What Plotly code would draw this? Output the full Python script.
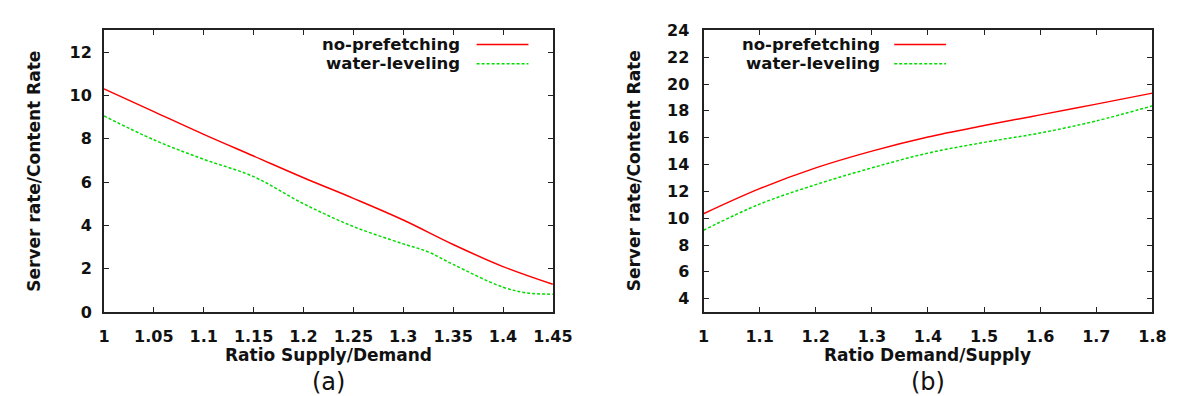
import plotly.graph_objects as go

# ---- data: panel (a) ----
xa_red = [1.0, 1.05, 1.1, 1.15, 1.2, 1.25, 1.3, 1.35, 1.4, 1.45]
ya_red = [10.3, 9.25, 8.2, 7.2, 6.2, 5.25, 4.25, 3.12, 2.1, 1.28]
xa_green = [1.0, 1.05, 1.1, 1.15, 1.2, 1.25, 1.3, 1.325, 1.35, 1.4, 1.425, 1.45]
ya_green = [9.05, 7.95, 7.05, 6.25, 5.0, 3.95, 3.15, 2.78, 2.2, 1.15, 0.88, 0.83]

# ---- data: panel (b) ----
xb = [1.0, 1.1, 1.2, 1.3, 1.4, 1.5, 1.6, 1.7, 1.8]
yb_red = [10.33, 12.2, 13.75, 15.0, 16.05, 16.9, 17.7, 18.5, 19.32]
yb_green = [9.1, 11.05, 12.5, 13.75, 14.85, 15.65, 16.35, 17.25, 18.37]

# ---- tick labels ----
xa_ticks = [1.0, 1.05, 1.1, 1.15, 1.2, 1.25, 1.3, 1.35, 1.4, 1.45]
xa_ticktext = ["1", "1.05", "1.1", "1.15", "1.2", "1.25", "1.3", "1.35", "1.4", "1.45"]
ya_ticks = [0, 2, 4, 6, 8, 10, 12]
xb_ticks = [1.0, 1.1, 1.2, 1.3, 1.4, 1.5, 1.6, 1.7, 1.8]
xb_ticktext = ["1", "1.1", "1.2", "1.3", "1.4", "1.5", "1.6", "1.7", "1.8"]
yb_ticks = [4, 6, 8, 10, 12, 14, 16, 18, 20, 22, 24]

series_names = ["no-prefetching", "water-leveling"]
RED = "#ff0000"
GREEN = "#00dd00"

W, H = 1183, 396
def px(x):
    return x / W
def py(y):
    return 1 - y / H

fig = go.Figure()
fig.add_trace(go.Scatter(x=xa_red, y=ya_red, mode="lines", name=series_names[0],
                         line=dict(color=RED, width=1.5, shape="spline", smoothing=1.0),
                         xaxis="x", yaxis="y", showlegend=False))
fig.add_trace(go.Scatter(x=xa_green, y=ya_green, mode="lines", name=series_names[1],
                         line=dict(color=GREEN, width=1.5, dash="3px,2px", shape="spline", smoothing=1.0),
                         xaxis="x", yaxis="y", showlegend=False))
fig.add_trace(go.Scatter(x=xb, y=yb_red, mode="lines", name=series_names[0],
                         line=dict(color=RED, width=1.5, shape="spline", smoothing=1.0),
                         xaxis="x2", yaxis="y2", showlegend=False))
fig.add_trace(go.Scatter(x=xb, y=yb_green, mode="lines", name=series_names[1],
                         line=dict(color=GREEN, width=1.5, dash="3px,2px", shape="spline", smoothing=1.0),
                         xaxis="x2", yaxis="y2", showlegend=False))

tickfont = dict(family="DejaVu Sans", size=16, color="#111", weight="bold")
axis_common = dict(showgrid=False, zeroline=False, showline=True, linecolor="#222", linewidth=2,
                   ticks="inside", ticklen=5, tickwidth=1, tickcolor="#222", mirror="ticks",
                   tickfont=tickfont)

fig.update_layout(
    width=W, height=H,
    margin=dict(l=0, r=0, t=0, b=0),
    paper_bgcolor="white", plot_bgcolor="white",
    xaxis=dict(domain=[px(92), px(551)], range=[1.0, 1.45], anchor="y",
               tickvals=xa_ticks, ticktext=xa_ticktext, ticklabelstandoff=9, **axis_common),
    yaxis=dict(domain=[py(310), py(14)], range=[0, 13], anchor="x",
               tickvals=ya_ticks, ticklabelstandoff=7, **axis_common),
    xaxis2=dict(domain=[px(705), px(1164)], range=[1.0, 1.8], anchor="y2",
                tickvals=xb_ticks, ticktext=xb_ticktext, ticklabelstandoff=9, **axis_common),
    yaxis2=dict(domain=[py(310), py(14)], range=[3, 24], anchor="x2",
                tickvals=yb_ticks, ticklabelstandoff=9, **axis_common),
)

title_font = dict(family="DejaVu Sans", size=17, color="#111", weight="bold")
annos = []
shapes = []
panels = [
    dict(cx=321.5, ytx=21, xtitle="Ratio Supply/Demand", label="(a)", leg_text_x=458, leg_l0=473, leg_l1=526),
    dict(cx=934.5, ytx=634, xtitle="Ratio Demand/Supply", label="(b)", leg_text_x=887, leg_l0=900, leg_l1=953),
]
for p in panels:
    annos.append(dict(text=p["xtitle"], x=px(p["cx"]), y=py(355), xref="paper", yref="paper",
                      xanchor="center", yanchor="middle", showarrow=False, font=title_font))
    annos.append(dict(text=p["label"], x=px(p["cx"]), y=py(383), xref="paper", yref="paper",
                      xanchor="center", yanchor="middle", showarrow=False,
                      font=dict(family="DejaVu Sans", size=24, color="#111")))
    annos.append(dict(text="Server rate/Content Rate", x=px(p["ytx"]), y=py(162), xref="paper", yref="paper",
                      xanchor="center", yanchor="middle", textangle=-90, showarrow=False, font=title_font))
    for i, (nm, col, dash) in enumerate([(series_names[0], RED, "solid"), (series_names[1], GREEN, "3px,2px")]):
        yy = 29 + 20 * i
        annos.append(dict(text=nm, x=px(p["leg_text_x"]), y=py(yy), xref="paper", yref="paper",
                          xanchor="right", yanchor="middle", showarrow=False,
                          font=dict(family="DejaVu Sans", size=16.5, color="#111", weight="bold")))
        shapes.append(dict(type="line", xref="paper", yref="paper",
                           x0=px(p["leg_l0"]), x1=px(p["leg_l1"]), y0=py(yy), y1=py(yy),
                           line=dict(color=col, width=1.5, dash=dash)))

fig.update_layout(annotations=annos, shapes=shapes)
fig.write_html("out.html")
